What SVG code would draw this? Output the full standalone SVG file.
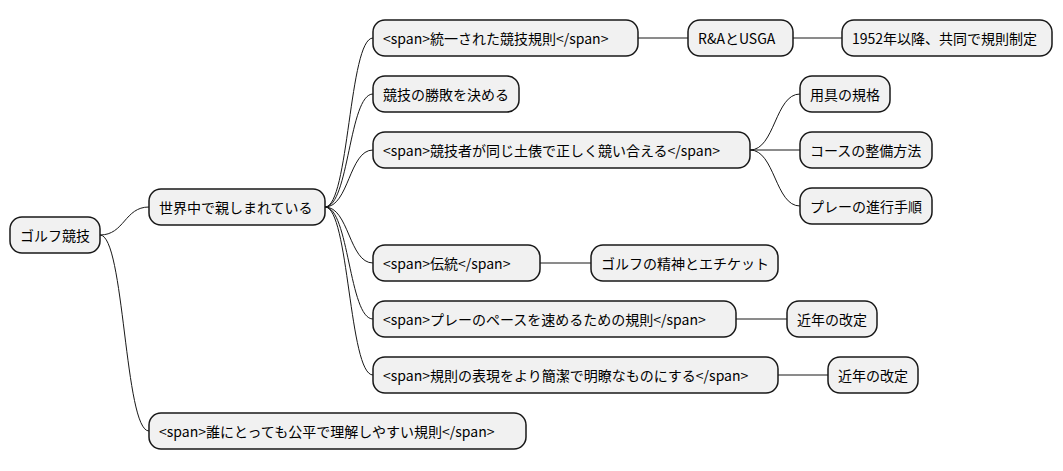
<svg xmlns="http://www.w3.org/2000/svg" width="1063" height="471" viewBox="0 0 1063 471">
<style>
.n rect{fill:#F1F1F1;stroke:#181818;stroke-width:1.5}
.n text{font-family:"Noto Sans CJK JP","Noto Sans",sans-serif;font-size:14px;fill:#000;dominant-baseline:central}
.c path{fill:none;stroke:#181818;stroke-width:1}
</style>
<rect width="1063" height="471" fill="#fff"/>
<g class="c">
<path d="M100,235 C124.5,235 124.5,207 149,207"/>
<path d="M100,235 C124.5,235 124.5,431 149,431"/>
<path d="M325,207 C349,207 349,38 373,38"/>
<path d="M325,207 C349,207 349,94 373,94"/>
<path d="M325,207 C349,207 349,150 373,150"/>
<path d="M325,207 C349,207 349,263 373,263"/>
<path d="M325,207 C349,207 349,319 373,319"/>
<path d="M325,207 C349,207 349,375 373,375"/>
<path d="M638,38 L688,38"/>
<path d="M793,38 L842,38"/>
<path d="M750,150 C775,150 775,94 800,94"/>
<path d="M750,150 L800,150"/>
<path d="M750,150 C775,150 775,206 800,206"/>
<path d="M540,263 L591,263"/>
<path d="M736,319 L787,319"/>
<path d="M778,375 L828,375"/>
</g>
<g class="n" id="n1"><rect x="10" y="217" width="90" height="36" rx="12"/><text x="20" y="235">ゴルフ競技</text></g>
<g class="n" id="n2"><rect x="149" y="189" width="176" height="36" rx="12"/><text x="159" y="207">世界中で親しまれている</text></g>
<g class="n" id="n3"><rect x="149" y="413" width="377" height="36" rx="12"/><text x="159" y="431">&lt;span&gt;誰にとっても公平で理解しやすい規則&lt;/span&gt;</text></g>
<g class="n" id="n4"><rect x="373" y="20" width="265" height="36" rx="12"/><text x="383" y="38">&lt;span&gt;統一された競技規則&lt;/span&gt;</text></g>
<g class="n" id="n5"><rect x="688" y="20" width="105" height="36" rx="12"/><text x="698" y="38">R&amp;AとUSGA</text></g>
<g class="n" id="n6"><rect x="842" y="20" width="210" height="36" rx="12"/><text x="852" y="38">1952年以降、共同で規則制定</text></g>
<g class="n" id="n7"><rect x="373" y="76" width="146" height="36" rx="12"/><text x="383" y="94">競技の勝敗を決める</text></g>
<g class="n" id="n8"><rect x="373" y="132" width="377" height="36" rx="12"/><text x="383" y="150">&lt;span&gt;競技者が同じ土俵で正しく競い合える&lt;/span&gt;</text></g>
<g class="n" id="n9"><rect x="800" y="76" width="90" height="36" rx="12"/><text x="810" y="94">用具の規格</text></g>
<g class="n" id="n10"><rect x="800" y="132" width="132" height="36" rx="12"/><text x="810" y="150">コースの整備方法</text></g>
<g class="n" id="n11"><rect x="800" y="188" width="132" height="36" rx="12"/><text x="810" y="206">プレーの進行手順</text></g>
<g class="n" id="n12"><rect x="373" y="245" width="167" height="36" rx="12"/><text x="383" y="263">&lt;span&gt;伝統&lt;/span&gt;</text></g>
<g class="n" id="n13"><rect x="591" y="245" width="187" height="36" rx="12"/><text x="601" y="263">ゴルフの精神とエチケット</text></g>
<g class="n" id="n14"><rect x="373" y="301" width="363" height="36" rx="12"/><text x="383" y="319">&lt;span&gt;プレーのペースを速めるための規則&lt;/span&gt;</text></g>
<g class="n" id="n15"><rect x="787" y="301" width="90" height="36" rx="12"/><text x="797" y="319">近年の改定</text></g>
<g class="n" id="n16"><rect x="373" y="357" width="405" height="36" rx="12"/><text x="383" y="375">&lt;span&gt;規則の表現をより簡潔で明瞭なものにする&lt;/span&gt;</text></g>
<g class="n" id="n17"><rect x="828" y="357" width="90" height="36" rx="12"/><text x="838" y="375">近年の改定</text></g>
</svg>
